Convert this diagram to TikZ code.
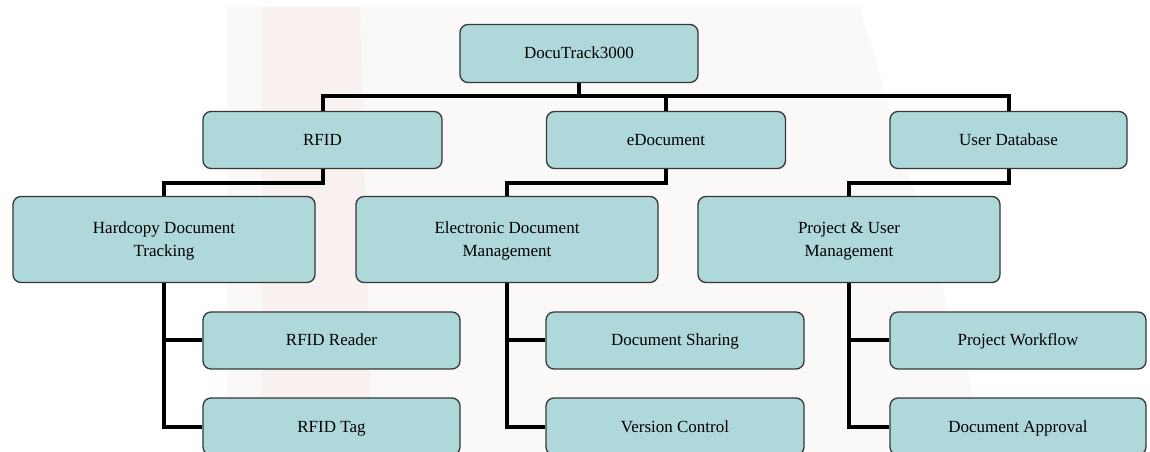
\documentclass[tikz,border=0pt]{standalone}
\usepackage{fontspec}
\setmainfont{Liberation Serif}
\usetikzlibrary{backgrounds}
\definecolor{boxfill}{RGB}{175,216,219}
\definecolor{boxline}{RGB}{55,55,55}
\definecolor{wmA}{RGB}{251,249,248}
\definecolor{wmB}{RGB}{249,241,239}
\tikzset{
  box/.style={draw=boxline, line width=1pt, fill=boxfill, rounded corners=6pt,
    inner sep=0pt, font=\fontsize{12.75}{17.25}\selectfont},
  one/.style={text height=8.25pt, text depth=0pt},
  two/.style={align=center, text height=25.5pt, text depth=0pt},
  bw/.style={minimum width=#1*0.75pt},
  bh/.style={minimum height=#1*0.75pt},
  conn/.style={draw=black, line width=3pt}
}
\begin{document}
\begin{tikzpicture}[x=0.75pt,y=-0.75pt]
\clip (0,0) rectangle (1150,452);
\begin{scope}[on background layer]
\fill[white] (0,0) rectangle (1150,452);
% faint watermark
\fill[wmA] (227,7) -- (860,7) -- (990,452) -- (227,452) -- cycle;
\fill[wmB] (262,7) -- (360,7) -- (372,452) -- (262,452) -- cycle;
\end{scope}

% level 0
\node[box, one, bw=238, bh=58] (root) at (579,53.5) {DocuTrack3000};
% level 1
\node[box, one, bw=239, bh=57] (rfid) at (322.5,140) {RFID};
\node[box, one, bw=239, bh=57] (edoc) at (666,140) {eDocument};
\node[box, one, bw=237, bh=57] (udb) at (1008.5,140) {User Database};
% level 2
\node[box, two, bw=302, bh=86] (hard) at (164,239.5) {Hardcopy Document\\Tracking};
\node[box, two, bw=302, bh=86] (elec) at (507,239.5) {Electronic Document\\Management};
\node[box, two, bw=302, bh=86] (proj) at (849,239.5) {Project \& User\\Management};
% level 3
\node[box, one, bw=257, bh=57] (reader) at (331.5,340.5) {RFID Reader};
\node[box, one, bw=257, bh=57] (tag) at (331.5,426.5) {RFID Tag};
\node[box, one, bw=258, bh=57] (share) at (675,340.5) {Document Sharing};
\node[box, one, bw=258, bh=57] (vers) at (675,426.5) {Version Control};
\node[box, one, bw=256, bh=57] (flow) at (1018,340.5) {Project Workflow};
\node[box, one, bw=256, bh=57] (appr) at (1018,426.5) {Document Approval};

\coordinate (bus0) at (579,96);
\coordinate (bus1) at (322.5,183);
\coordinate (bus2) at (666,183);
\coordinate (bus3) at (1008.5,183);

\begin{scope}[on background layer]
\draw[conn] (root.south) |- (bus0) -| (rfid.north);
\draw[conn] (bus0) -| (edoc.north);
\draw[conn] (bus0) -| (udb.north);
\draw[conn] (rfid.south) |- (bus1) -| (hard.north);
\draw[conn] (edoc.south) |- (bus2) -| (elec.north);
\draw[conn] (udb.south) |- (bus3) -| (proj.north);
\draw[conn] (hard.south) |- (reader.west);
\draw[conn] (hard.south) |- (tag.west);
\draw[conn] (elec.south) |- (share.west);
\draw[conn] (elec.south) |- (vers.west);
\draw[conn] (proj.south) |- (flow.west);
\draw[conn] (proj.south) |- (appr.west);
\end{scope}
\end{tikzpicture}
\end{document}
